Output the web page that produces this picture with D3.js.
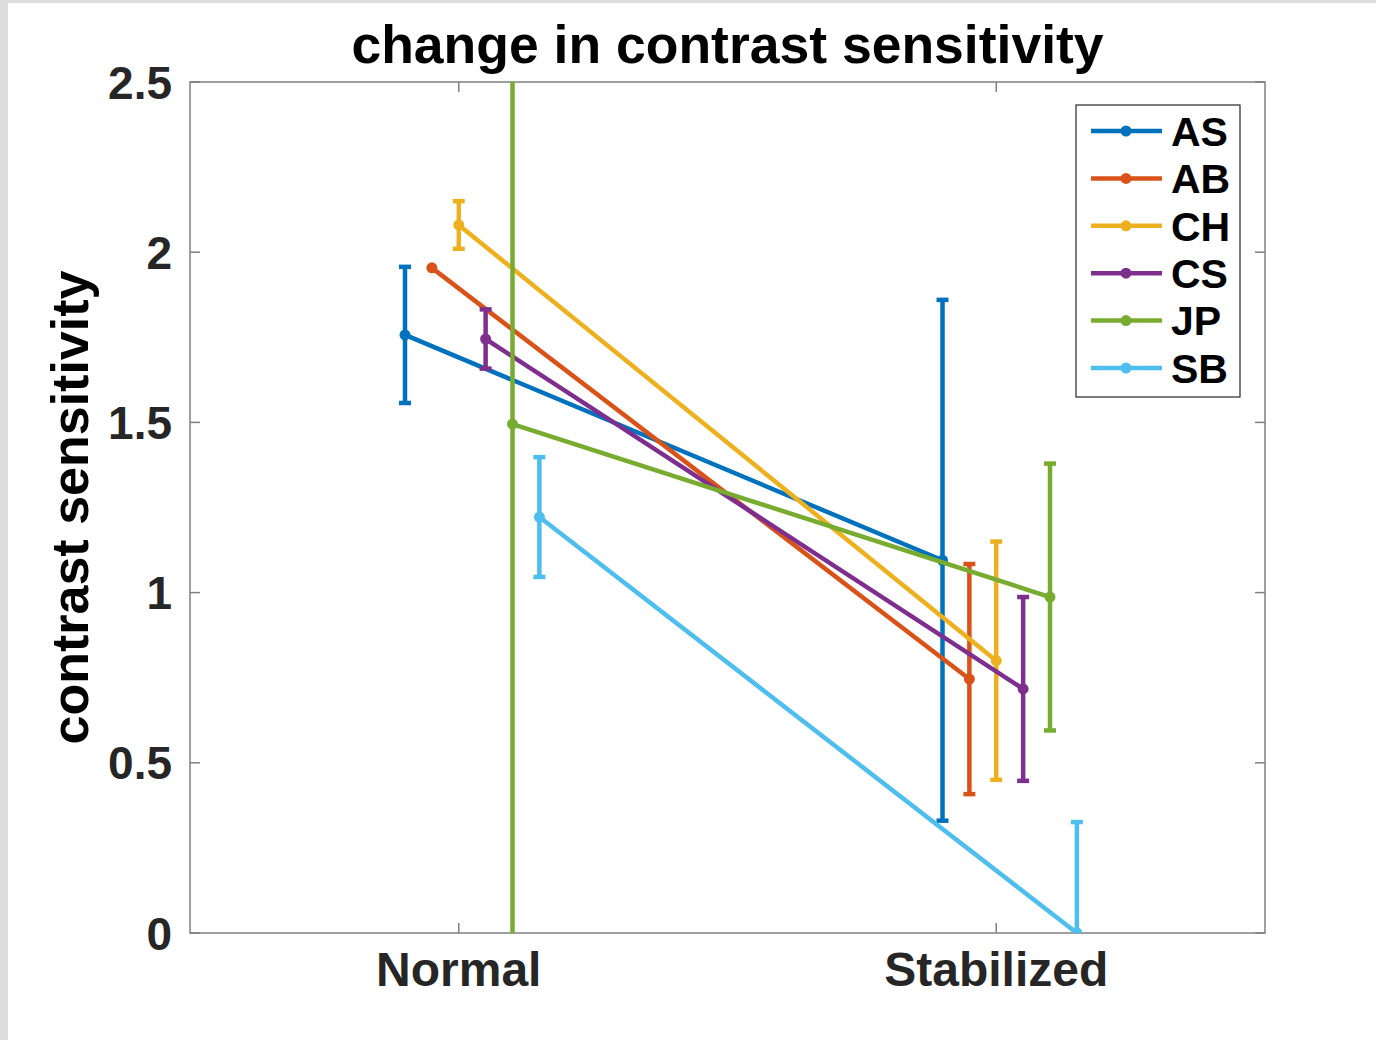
<!DOCTYPE html>
<html>
<head>
<meta charset="utf-8">
<script src="https://d3js.org/d3.v7.min.js"></script>
<style>
  body { margin: 0; background: #fff; }
  text { font-family: "Liberation Sans", Arial, Helvetica, sans-serif; font-weight: bold; }
</style>
</head>
<body>
<div id="chart"></div>
<script>
// conditions on the x axis
const conditions = ["Normal", "Stabilized"];
// subjects (series) and their horizontal offsets
const subjects = ["AS", "AB", "CH", "CS", "JP", "SB"];
const offsets = [-0.1, -0.05, 0, 0.05, 0.1, 0.15];
const colors = ["#0072BD", "#D95319", "#EDB120", "#7E2F8E", "#77AC30", "#4DBEEE"];
// mean contrast sensitivity, [Normal, Stabilized]
const means = [
  [1.757, 1.095],
  [1.954, 0.746],
  [2.080, 0.800],
  [1.745, 0.717],
  [1.495, 0.987],
  [1.222, 0.000]
];
// error bar half widths, [Normal, Stabilized]
const errs = [
  [0.200, 0.765],
  [0.000, 0.338],
  [0.070, 0.350],
  [0.087, 0.270],
  [2.900, 0.392],
  [0.176, 0.326]
];
const yTicks = [0, 0.5, 1, 1.5, 2, 2.5];

const W = 1376, H = 1040;
const margin = {left: 190, right: 111, top: 82, bottom: 107};

const svg = d3.select("#chart").append("svg")
  .attr("width", W)
  .attr("height", H);

// grey window frame
svg.append("rect").attr("x", 0).attr("y", 0).attr("width", W).attr("height", 3).attr("fill", "#dcdcdc");
svg.append("rect").attr("x", 0).attr("y", 0).attr("width", 8).attr("height", H).attr("fill", "#dcdcdc");

const x = d3.scaleLinear().domain([0.5, 2.5]).range([margin.left, W - margin.right]);
const y = d3.scaleLinear().domain([0, 2.5]).range([H - margin.bottom, margin.top]);

const x0 = x.range()[0], x1 = x.range()[1];
const y0 = y.range()[0], y1 = y.range()[1];

svg.append("defs").append("clipPath").attr("id", "plotclip")
  .append("rect").attr("x", x0).attr("y", y1).attr("width", x1 - x0).attr("height", y0 - y1);

// axes box
const axisColor = "#808080";
svg.append("rect")
  .attr("x", x0).attr("y", y1).attr("width", x1 - x0).attr("height", y0 - y1)
  .attr("fill", "none").attr("stroke", axisColor).attr("stroke-width", 1.5);

// ticks (inward, all four sides)
const tl = 10;
yTicks.forEach(t => {
  svg.append("line").attr("x1", x0).attr("x2", x0 + tl).attr("y1", y(t)).attr("y2", y(t))
    .attr("stroke", axisColor).attr("stroke-width", 1.5);
  svg.append("line").attr("x1", x1).attr("x2", x1 - tl).attr("y1", y(t)).attr("y2", y(t))
    .attr("stroke", axisColor).attr("stroke-width", 1.5);
  svg.append("text").attr("x", x0 - 18).attr("y", y(t)).attr("dy", "0.36em")
    .attr("text-anchor", "end").attr("font-size", 46).attr("fill", "#262626")
    .text(d3.format("")(t));
});
conditions.forEach((c, i) => {
  const cx = x(i + 1);
  svg.append("line").attr("x1", cx).attr("x2", cx).attr("y1", y0).attr("y2", y0 - tl)
    .attr("stroke", axisColor).attr("stroke-width", 1.5);
  svg.append("line").attr("x1", cx).attr("x2", cx).attr("y1", y1).attr("y2", y1 + tl)
    .attr("stroke", axisColor).attr("stroke-width", 1.5);
  svg.append("text").attr("x", cx).attr("y", y0 + 53)
    .attr("text-anchor", "middle").attr("font-size", 48).attr("fill", "#262626")
    .text(c);
});

// title and y label
svg.append("text").attr("x", (x0 + x1) / 2).attr("y", 63)
  .attr("text-anchor", "middle").attr("font-size", 53.5).attr("fill", "#000")
  .text("change in contrast sensitivity");
svg.append("text")
  .attr("transform", "translate(88," + ((y0 + y1) / 2) + ") rotate(-90)")
  .attr("text-anchor", "middle").attr("font-size", 52).attr("fill", "#000")
  .text("contrast sensitivity");

// data
const plot = svg.append("g").attr("clip-path", "url(#plotclip)");
const cap = 6, sw = 4.5, mr = 5.5;
subjects.forEach((s, si) => {
  const pts = means[si].map((m, ci) => ({x: ci + 1 + offsets[si], y: m, e: errs[si][ci]}));
  const g = plot.append("g");
  g.append("path")
    .attr("d", d3.line().x(d => x(d.x)).y(d => y(d.y))(pts))
    .attr("fill", "none").attr("stroke", colors[si]).attr("stroke-width", sw);
  pts.forEach(p => {
    if (p.e > 0) {
      g.append("line").attr("x1", x(p.x)).attr("x2", x(p.x))
        .attr("y1", y(p.y - p.e)).attr("y2", y(p.y + p.e))
        .attr("stroke", colors[si]).attr("stroke-width", sw);
      [p.y - p.e, p.y + p.e].forEach(v => {
        g.append("line").attr("x1", x(p.x) - cap).attr("x2", x(p.x) + cap)
          .attr("y1", y(v)).attr("y2", y(v))
          .attr("stroke", colors[si]).attr("stroke-width", sw);
      });
    }
  });
  g.selectAll("circle").data(pts).enter().append("circle")
    .attr("cx", d => x(d.x)).attr("cy", d => y(d.y)).attr("r", mr)
    .attr("fill", colors[si]);
});

// legend
const lg = svg.append("g").attr("transform", "translate(1076,105)");
lg.append("rect").attr("width", 164).attr("height", 292)
  .attr("fill", "#fff").attr("stroke", "#262626").attr("stroke-width", 1.2);
subjects.forEach((s, si) => {
  const ry = 26 + si * 47.4;
  lg.append("line").attr("x1", 15).attr("x2", 86).attr("y1", ry).attr("y2", ry)
    .attr("stroke", colors[si]).attr("stroke-width", sw);
  lg.append("circle").attr("cx", 50).attr("cy", ry).attr("r", mr).attr("fill", colors[si]);
  lg.append("text").attr("x", 95).attr("y", ry).attr("dy", "0.36em")
    .attr("font-size", 41).attr("fill", "#000").text(s);
});
</script>
</body>
</html>
